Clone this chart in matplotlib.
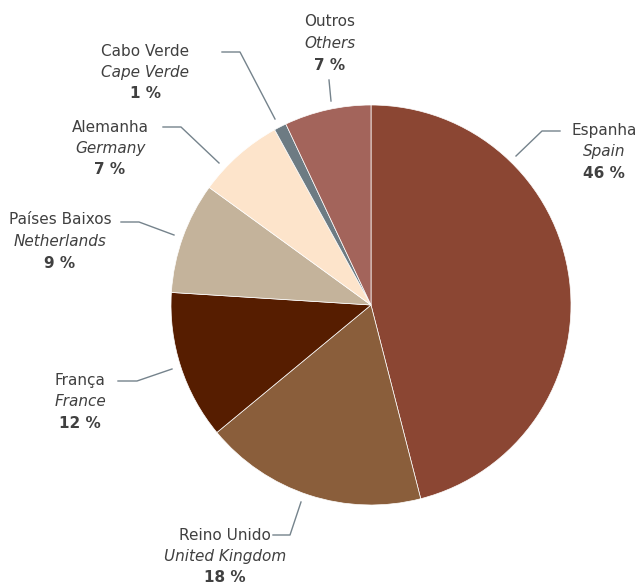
import matplotlib.pyplot as plt

# share of the total, clockwise from 12 o'clock
names_pt = ["Espanha", "Reino Unido", "França", "Países Baixos", "Alemanha", "Cabo Verde", "Outros"]
names_en = ["Spain", "United Kingdom", "France", "Netherlands", "Germany", "Cape Verde", "Others"]
shares = [46, 18, 12, 9, 7, 1, 7]
colors = ["#8B4633", "#8A5E3B", "#561D00", "#C4B39B", "#FDE4CB", "#6D7B83", "#A3645B"]

# label layout in pixels (text centre of first line, leader polyline)
label_pos = [(604, 130), (225, 535), (80, 380), (60, 220), (110, 127), (145, 51), (330, 22)]
leaders = [
    [(560, 131), (542, 131), (516, 156)],
    [(273, 535), (290, 535), (301, 502)],
    [(118, 381), (137, 381), (172, 369)],
    [(121, 222), (139, 222), (174, 235)],
    [(163, 127), (181, 127), (219, 163)],
    [(222, 52), (240, 52), (275, 119)],
    [(329, 80), (331, 101)],
]

W, H = 641, 586
fig = plt.figure(figsize=(W / 100, H / 100), dpi=100)
ax = fig.add_axes([0, 0, 1, 1])

# y axis is flipped, so start at -90 and go "counterclockwise" to look clockwise from top
ax.pie(shares, colors=colors, center=(371, 305), radius=200, startangle=-90,
       counterclock=True, frame=True,
       wedgeprops=dict(edgecolor="white", linewidth=0.5))
ax.set_xlim(0, W)
ax.set_ylim(H, 0)
ax.set_aspect("equal")
ax.axis("off")

txt = "#404040"
fs = 11
for i in range(len(shares)):
    x, y = label_pos[i]
    ax.text(x, y, names_pt[i], ha="center", va="center", fontsize=fs, color=txt)
    ax.text(x, y + 21.5, names_en[i], ha="center", va="center", fontsize=fs,
            style="italic", color=txt)
    ax.text(x, y + 43, f"{shares[i]} %", ha="center", va="center", fontsize=fs,
            weight="bold", color=txt)
    xs = [p[0] for p in leaders[i]]
    ys = [p[1] for p in leaders[i]]
    ax.plot(xs, ys, color="#75838C", lw=1.0)

fig.savefig("out.png", dpi=100)
